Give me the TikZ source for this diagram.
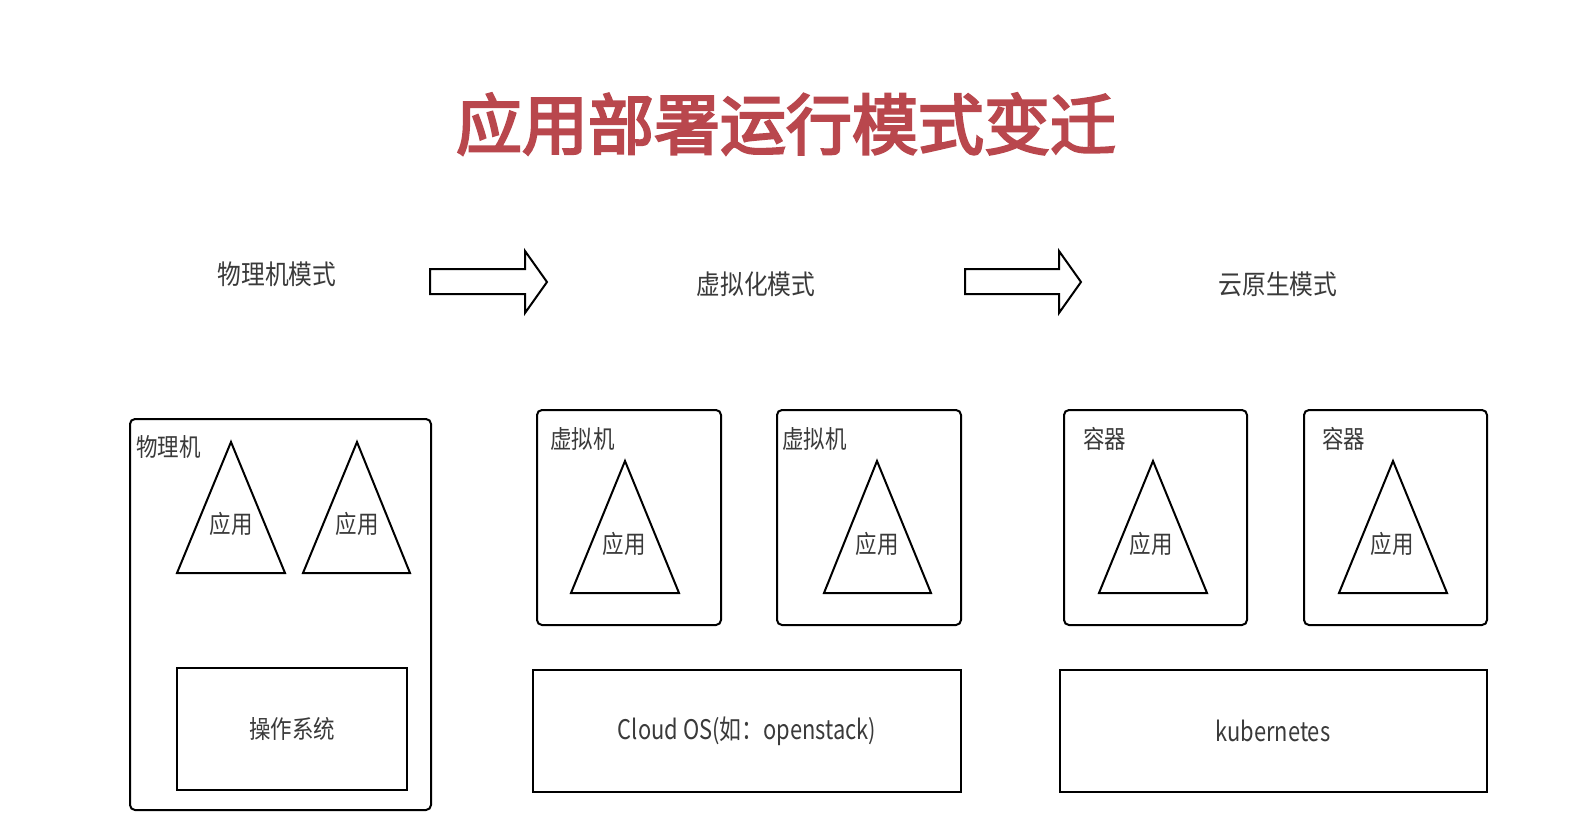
\documentclass[tikz,border=0pt]{standalone}
\usepackage{fontspec}
\setmainfont{Noto Sans CJK SC}
\newfontfamily\titlefont[FakeBold=3.5]{Noto Sans CJK SC}
\usetikzlibrary{calc}
\definecolor{titlered}{HTML}{B9474D}
\definecolor{txtgray}{HTML}{3A3A3A}
\tikzset{
  box/.style={draw=black, line width=2pt, rounded corners=5pt},
  sqbox/.style={draw=black, line width=2pt},
  tri/.style={draw=black, line width=2pt, line join=miter},
  blockarrow/.style={draw=black, line width=2pt, fill=white, line join=miter},
  lbl/.style={text=txtgray, font=\fontsize{25}{28}\selectfont, xscale=0.86, inner sep=0pt},
  head/.style={text=txtgray, font=\fontsize{27}{30}\selectfont, xscale=0.88, inner sep=0pt},
  big/.style={text=txtgray, font=\fontsize{27}{30}\selectfont, xscale=0.81, inner sep=0pt},
}
\begin{document}
\begin{tikzpicture}[x=1pt,y=-1pt]
\useasboundingbox (0,0) rectangle (1572,830);
\fill[white] (0,0) rectangle (1572,830);

% title
\node[text=titlered, font=\fontsize{66}{70}\selectfont\titlefont, inner sep=0pt] (title) at (786,124) {应用部署运行模式变迁};

% headings
\node[head] (h1) at (277,274) {物理机模式};
\node[head] (h2) at (756,284) {虚拟化模式};
\node[head] (h3) at (1278,284) {云原生模式};

% block arrows
\draw[blockarrow] (430,269) -- (525,269) -- (525,251) -- (547,282) -- (525,313) -- (525,294) -- (430,294) -- cycle;
\draw[blockarrow] (965,269) -- (1059,269) -- (1059,251) -- (1081,282) -- (1059,313) -- (1059,294) -- (965,294) -- cycle;

% ---- physical machine
\draw[box] (130,419) rectangle (431,810);
\node[lbl, anchor=north west] (pm) at (136,435) {物理机};
\draw[tri] (231,442) -- (285,573) -- (177,573) -- cycle;
\draw[tri] (357,442) -- (410,573) -- (303,573) -- cycle;
\node[lbl] (a1) at (231,524) {应用};
\node[lbl] (a2) at (357,524) {应用};
\draw[sqbox] (177,668) rectangle (407,790);
\node[lbl] (os) at (292,729) {操作系统};

% ---- virtualization
\draw[box] (537,410) rectangle (721,625);
\node[lbl, anchor=north west] (vm1) at (550,427) {虚拟机};
\draw[tri] (625,461) -- (679,593) -- (571,593) -- cycle;
\node[lbl] (a3) at (624,544) {应用};
\draw[box] (777,410) rectangle (961,625);
\node[lbl, anchor=north west] (vm2) at (782,427) {虚拟机};
\draw[tri] (877,461) -- (931,593) -- (824,593) -- cycle;
\node[lbl] (a4) at (877,544) {应用};
\draw[sqbox] (533,670) rectangle (961,792);
\node[big] (cos) at (747,731) {Cloud OS(如：openstack)};

% ---- cloud native
\draw[box] (1064,410) rectangle (1247,625);
\node[lbl, anchor=north west] (c1) at (1083,427) {容器};
\draw[tri] (1153,461) -- (1207,593) -- (1099,593) -- cycle;
\node[lbl] (a5) at (1151,544) {应用};
\draw[box] (1304,410) rectangle (1487,625);
\node[lbl, anchor=north west] (c2) at (1322,427) {容器};
\draw[tri] (1393,461) -- (1447,593) -- (1339,593) -- cycle;
\node[lbl] (a6) at (1392,544) {应用};
\draw[sqbox] (1060,670) rectangle (1487,792);
\node[big] (k8s) at (1273,731) {kubernetes};
\end{tikzpicture}
\end{document}
